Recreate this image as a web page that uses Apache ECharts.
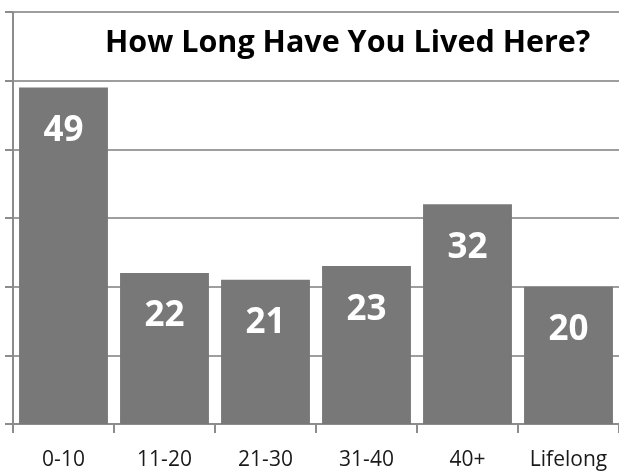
<!DOCTYPE html>
<html>
<head>
<meta charset="utf-8">
<script src="https://cdn.jsdelivr.net/npm/echarts@6/dist/echarts.min.js"></script>
<style>
html,body{margin:0;padding:0;background:#fff;}
#c{width:619px;height:473px;}
</style>
</head>
<body>
<div id="c"></div>
<script>
const categories = ['0-10', '11-20', '21-30', '31-40', '40+', 'Lifelong'];
const values = [49, 22, 21, 23, 32, 20];
const titleText = 'How Long Have You Lived Here?';

const chart = echarts.init(document.getElementById('c'), null, {renderer: 'canvas'});
chart.setOption({
  animation: false,
  backgroundColor: '#ffffff',
  title: {
    text: titleText,
    left: 105,
    top: 28,
    padding: 0,
    textStyle: {fontFamily: 'Open Sans', fontWeight: 'bold', fontSize: 30.5, color: '#000'}
  },
  grid: {left: 13, right: -3, top: 12, bottom: 49, containLabel: false},
  xAxis: {
    type: 'category',
    data: categories,
    axisLine: {lineStyle: {color: '#8c8c8c', width: 2}},
    axisTick: {show: true, length: 9, lineStyle: {color: '#8c8c8c', width: 2}},
    axisLabel: {fontFamily: 'Open Sans', fontSize: 21, color: '#1a1a1a', margin: 26}
  },
  yAxis: {
    type: 'value',
    min: 0, max: 60, interval: 10,
    axisLine: {show: true, lineStyle: {color: '#8c8c8c', width: 2}},
    axisTick: {show: true, inside: false, length: 8, lineStyle: {color: '#8c8c8c', width: 2}},
    axisLabel: {show: false},
    splitLine: {lineStyle: {color: '#9e9e9e', width: 2}}
  },
  series: [{
    type: 'bar',
    data: values,
    barCategoryGap: '12%',
    itemStyle: {color: '#787878'},
    label: {
      show: true,
      position: 'insideTop',
      distance: 26,
      fontFamily: 'Open Sans',
      fontWeight: 'bold',
      fontSize: 35,
      color: '#ffffff'
    }
  }]
});
</script>
</body>
</html>
